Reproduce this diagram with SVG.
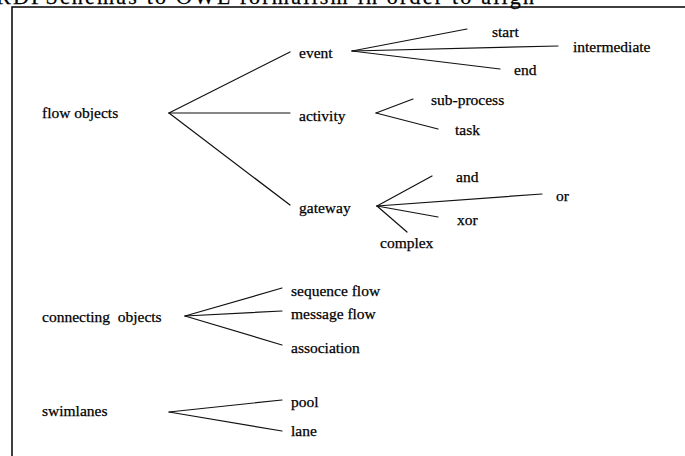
<svg xmlns="http://www.w3.org/2000/svg" width="685" height="456" viewBox="0 0 685 456">
<style>
text{font-family:"Liberation Serif","Times New Roman",serif;font-size:15.5px;fill:#000;stroke:#000;stroke-width:0.25}
.c line{stroke:#111;stroke-width:1.2;stroke-linecap:round}
.frame{stroke:#000;stroke-width:1.5;fill:none}
</style>
<rect width="685" height="456" fill="#fff"/>
<text x="-4" y="4" textLength="538" style="font-size:22px">RDFSchemas to OWL formalism in order to align</text>
<path class="frame" d="M12 456 V7 H685"/>
<g class="c" id="connectors">
<line x1="169" y1="113" x2="290" y2="52"/>
<line x1="169" y1="113" x2="290" y2="113"/>
<line x1="169" y1="113" x2="290" y2="205"/>
<line x1="352" y1="51" x2="467" y2="29"/>
<line x1="352" y1="51" x2="558" y2="46"/>
<line x1="352" y1="51" x2="500" y2="69"/>
<line x1="376" y1="113" x2="413" y2="99"/>
<line x1="376" y1="113" x2="438" y2="129"/>
<line x1="377" y1="206" x2="432" y2="176"/>
<line x1="377" y1="206" x2="542" y2="194"/>
<line x1="377" y1="206" x2="438" y2="217"/>
<line x1="377" y1="206" x2="407" y2="232"/>
<line x1="185" y1="316" x2="282" y2="288"/>
<line x1="185" y1="316" x2="282" y2="311"/>
<line x1="185" y1="316" x2="282" y2="345"/>
<line x1="169" y1="412" x2="282" y2="400"/>
<line x1="169" y1="412" x2="282" y2="431"/>
</g>
<g id="flow-objects"><text x="42" y="118">flow objects</text></g>
<g id="event"><text x="299" y="58">event</text></g>
<g id="activity"><text x="299" y="121">activity</text></g>
<g id="gateway"><text x="299" y="213">gateway</text></g>
<g id="start"><text x="492" y="37">start</text></g>
<g id="intermediate"><text x="573" y="52">intermediate</text></g>
<g id="end"><text x="514" y="75">end</text></g>
<g id="sub-process"><text x="431" y="105">sub-process</text></g>
<g id="task"><text x="455" y="135">task</text></g>
<g id="and"><text x="456" y="182">and</text></g>
<g id="or"><text x="556" y="201">or</text></g>
<g id="xor"><text x="457" y="225">xor</text></g>
<g id="complex"><text x="380" y="248">complex</text></g>
<g id="connecting-objects"><text x="42" y="322" xml:space="preserve">connecting  objects</text></g>
<g id="sequence-flow"><text x="291" y="296">sequence flow</text></g>
<g id="message-flow"><text x="291" y="319">message flow</text></g>
<g id="association"><text x="291" y="353">association</text></g>
<g id="swimlanes"><text x="42" y="416">swimlanes</text></g>
<g id="pool"><text x="291" y="407">pool</text></g>
<g id="lane"><text x="291" y="436">lane</text></g>
</svg>
